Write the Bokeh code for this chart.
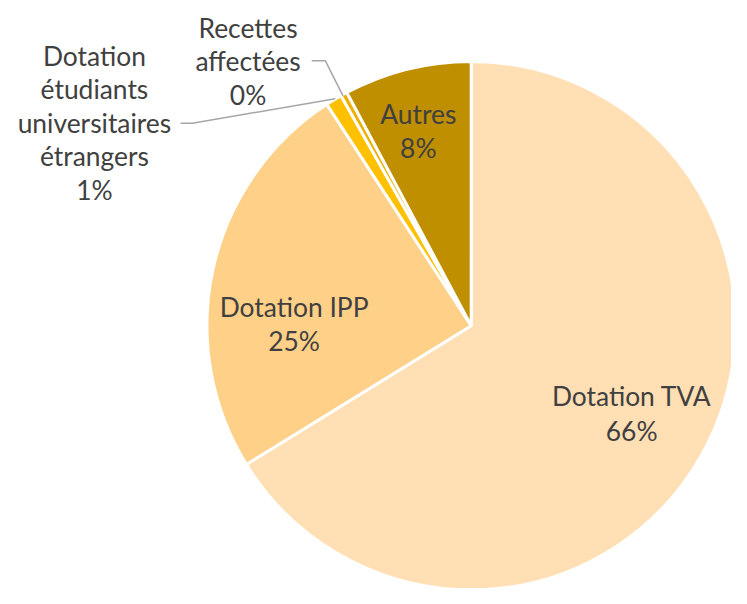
import math
from bokeh.plotting import figure
from bokeh.models import Range1d, ColumnDataSource
from bokeh.core.properties import value
from bokeh.embed import file_html
from bokeh.resources import INLINE

# ---- data ----
categories = ["Dotation TVA", "Dotation IPP",
              "Dotation étudiants universitaires étrangers",
              "Recettes affectées", "Autres"]
shares = [66.2, 24.6, 1.0, 0.4, 7.8]
colors = ["#FFDFB3", "#FFD088", "#FFC000", "#EDB000", "#BF8F00"]
pct_labels = [f"{round(s)}%" for s in shares]

W, H = 731, 588
REF_W, REF_H = 747, 604
S = W / REF_W

def Y(py):
    return REF_H - py

p = figure(width=W, height=H, output_backend="svg", toolbar_location=None,
           x_range=Range1d(0, REF_W), y_range=Range1d(0, REF_H),
           min_border=0)
p.axis.visible = False
p.grid.visible = False
p.outline_line_color = None
p.background_fill_color = "white"

total = sum(shares)
starts, ends = [], []
cum = 0.0
for s in shares:
    starts.append(math.pi / 2 - 2 * math.pi * cum / total)
    cum += s
    ends.append(math.pi / 2 - 2 * math.pi * cum / total)

cx, cy, R = 481, Y(334), 270
src = ColumnDataSource(dict(start=starts, end=ends, color=colors, cat=categories))
p.wedge(x=cx, y=cy, radius=R, start_angle="start", end_angle="end",
        direction="clock", fill_color="color", line_color="white", line_width=3,
        source=src)

# leader lines
p.line(x=[318, 332, 350], y=[Y(62), Y(62), Y(98)], line_color="#A6A6A6", line_width=1.5)
p.line(x=[184, 196, 342], y=[Y(126), Y(126), Y(101)], line_color="#A6A6A6", line_width=1.5)

font = value("Lato")
tcol = "#404040"
fs = f"{27 * S:.1f}px"

labels = [
    (645, [406, 442], ["Dotation TVA", pct_labels[0]]),
    (300, [315, 350], ["Dotation IPP", pct_labels[1]]),
    (96, [57, 91, 126, 160, 195], ["Dotation", "étudiants", "universitaires", "étrangers", pct_labels[2]]),
    (253, [28, 62, 97], ["Recettes", "affectées", pct_labels[3]]),
    (427, [117, 152], ["Autres", pct_labels[4]]),
]
xs, ys, ts = [], [], []
for x, yl, tl in labels:
    for yy, tt in zip(yl, tl):
        xs.append(x); ys.append(Y(yy)); ts.append(tt)
p.text(x=xs, y=ys, text=ts, text_font=font, text_font_size=fs, text_color=tcol,
       text_align="center", text_baseline="alphabetic")

open("out.html", "w").write(file_html(p, INLINE))
